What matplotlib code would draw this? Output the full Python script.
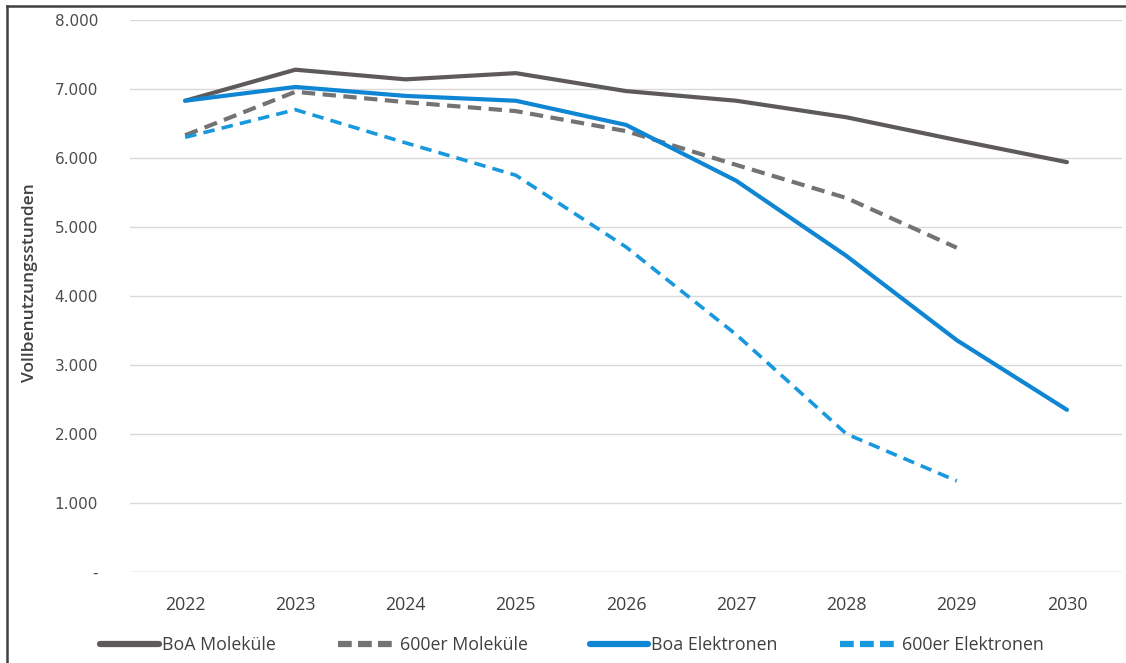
import matplotlib.pyplot as plt
from matplotlib.lines import Line2D

# data
years = ['2022', '2023', '2024', '2025', '2026', '2027', '2028', '2029', '2030']
boa_molekuele = [6830, 7280, 7140, 7230, 6970, 6830, 6590, 6260, 5940]
er600_molekuele = [6330, 6960, 6810, 6680, 6390, 5900, 5420, 4700]
boa_elektronen = [6830, 7030, 6900, 6830, 6480, 5670, 4580, 3360, 2350]
er600_elektronen = [6300, 6700, 6220, 5750, 4710, 3440, 2000, 1320]

y_ticks = [0, 1000, 2000, 3000, 4000, 5000, 6000, 7000, 8000]
y_tick_labels = ['-', '1.000', '2.000', '3.000', '4.000', '5.000', '6.000', '7.000', '8.000']

c_dark = '#5e5a5a'
c_gray = '#737373'
c_blue = '#0f86d3'
c_lblue = '#1898dd'

fig = plt.figure(figsize=(11.26, 6.63), dpi=100)
ax = fig.add_axes([0.1155, 0.1373, 0.881, 0.8325])

x = list(range(len(years)))
ax.plot(x, boa_molekuele, color=c_dark, lw=3.0, solid_capstyle='round', label='BoA Moleküle')
ax.plot(x[:len(er600_molekuele)], er600_molekuele, color=c_gray, lw=3.0,
        dashes=(3.2, 1.8), dash_capstyle='butt', label='600er Moleküle')
ax.plot(x, boa_elektronen, color=c_blue, lw=3.0, solid_capstyle='round', label='Boa Elektronen')
ax.plot(x[:len(er600_elektronen)], er600_elektronen, color=c_lblue, lw=2.6,
        dashes=(3.2, 2.0), dash_capstyle='butt', label='600er Elektronen')

ax.set_xlim(-0.5, len(years) - 0.5)
ax.set_ylim(0, 8000)
ax.set_xticks(x)
ax.set_xticklabels(years, fontfamily='Open Sans', fontsize=12.8, color='#404040')
ax.set_yticks(y_ticks)
ax.set_yticklabels(y_tick_labels, fontfamily='DejaVu Sans', fontsize=11, color='#4d4d4d')
ax.tick_params(axis='both', length=0)
ax.tick_params(axis='y', pad=23)
ax.tick_params(axis='x', pad=17)
ax.grid(axis='y', color='#d9d9d9', lw=1.0)
ax.set_axisbelow(True)
for s in ax.spines.values():
    s.set_visible(False)
ax.axhline(0, color='#d9d9d9', lw=1.0, zorder=0)

ax.set_ylabel('Vollbenutzungsstunden', fontfamily='Open Sans', fontsize=12.5,
              fontweight='semibold', color='#404040')
ax.yaxis.set_label_coords(-0.093, 0.525)

handles = [
    Line2D([], [], color=c_dark, lw=4.5, solid_capstyle='round'),
    Line2D([], [], color=c_gray, lw=4.5, dashes=(2.2, 1.0)),
    Line2D([], [], color=c_blue, lw=4.5, solid_capstyle='round'),
    Line2D([], [], color=c_lblue, lw=4.5, dashes=(2.2, 1.0)),
]
labels = ['BoA Moleküle', '600er Moleküle', 'Boa Elektronen', '600er Elektronen']
leg = fig.legend(handles, labels, loc='center', bbox_to_anchor=(0.508, 0.027), ncol=4,
                 frameon=False, handlelength=3.3, handletextpad=0.17, columnspacing=3.5,
                 prop={'family': 'Open Sans', 'size': 12.8})
for t in leg.get_texts():
    t.set_color('#404040')

# border of the screenshot (top and left edges)
fig.add_artist(Line2D([0.0062, 1.0], [0.991, 0.991], transform=fig.transFigure, color='#404040', lw=1.8))
fig.add_artist(Line2D([0.0062, 0.0062], [0.0, 0.991], transform=fig.transFigure, color='#404040', lw=1.8))

fig.savefig('out.png', dpi=100)
